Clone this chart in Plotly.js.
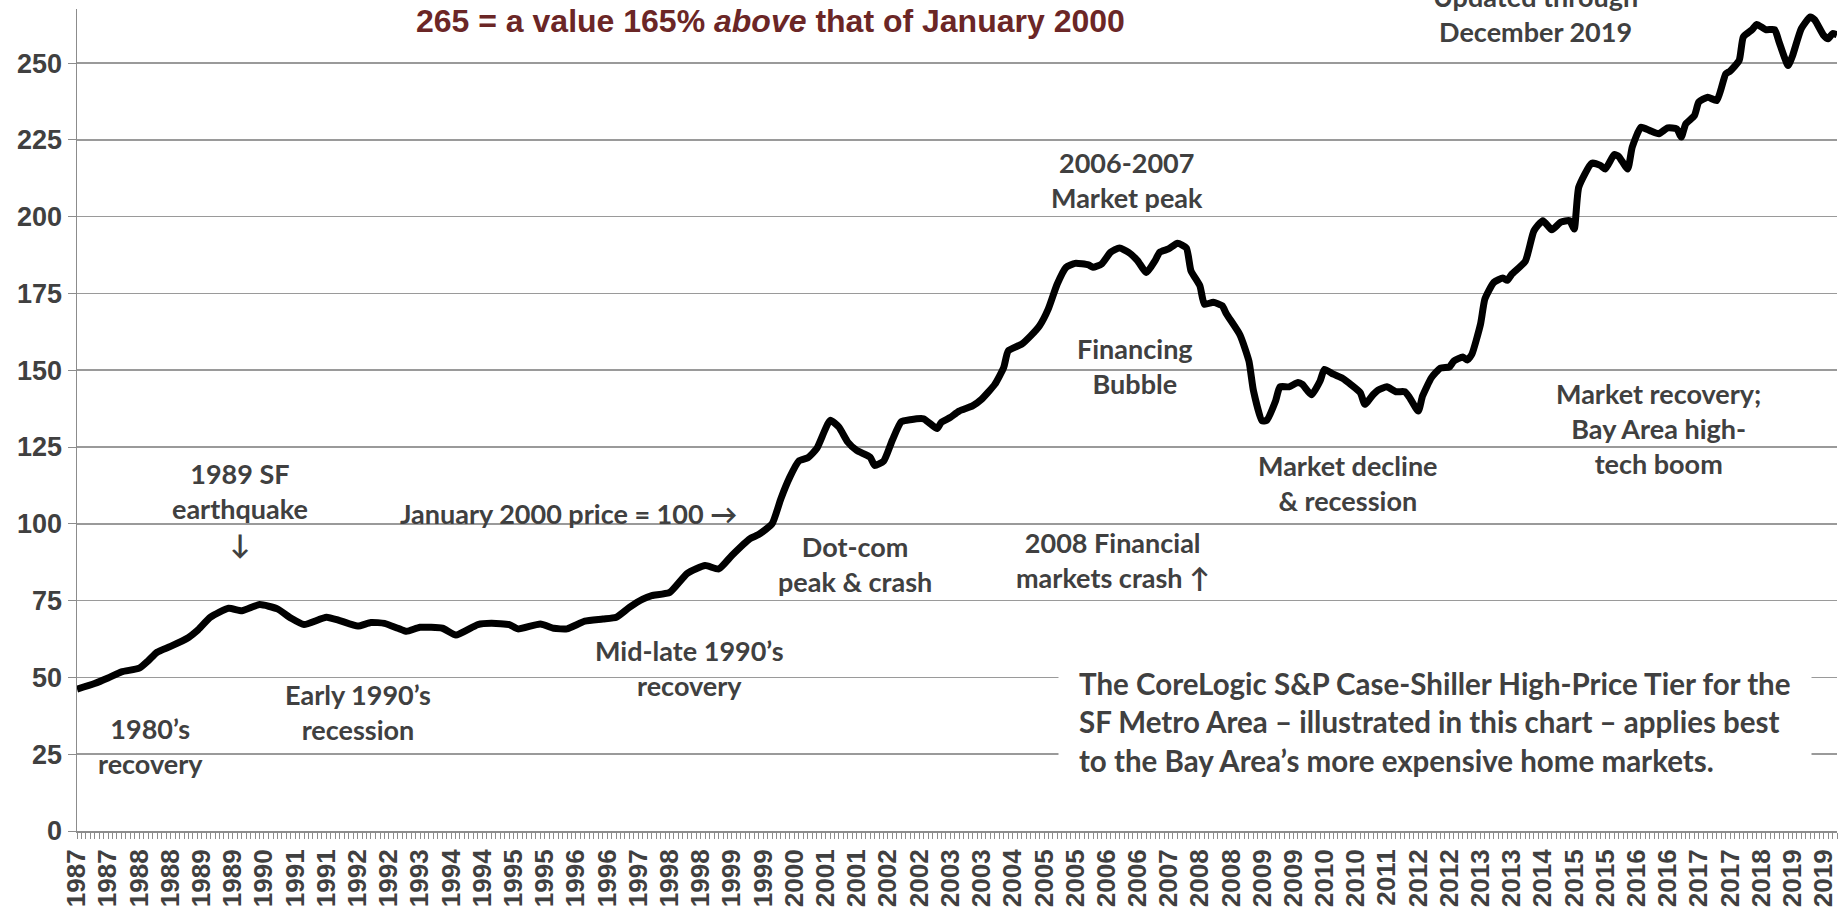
<!DOCTYPE html>
<html>
<head>
<meta charset="utf-8">
<script src="https://cdn.plot.ly/plotly-3.0.1.min.js"></script>
<style>
  html, body { margin: 0; padding: 0; background: #fff; }
  #grafica { width: 1840px; height: 913px; }
</style>
</head>
<body>
<div id="grafica"></div>
<script>
// Índice High-Price Tier SF (enero 2000 = 100)
const meses = [
    "1987-01", "1987-05", "1987-08", "1987-11", "1988-03", "1988-05", "1988-07", "1988-10",
    "1989-02", "1989-04", "1989-07", "1989-11", "1990-02", "1990-06", "1990-10", "1991-01",
    "1991-04", "1991-09", "1991-12", "1992-04", "1992-07", "1992-10", "1993-01", "1993-03",
    "1993-06", "1993-11", "1994-02", "1994-07", "1994-10", "1995-02", "1995-04", "1995-09",
    "1995-12", "1996-03", "1996-07", "1996-11", "1997-02", "1997-05", "1997-08", "1997-10",
    "1998-02", "1998-06", "1998-10", "1999-01", "1999-04", "1999-08", "1999-10", "2000-01",
    "2000-03", "2000-05", "2000-07", "2000-09", "2000-11", "2001-02", "2001-04", "2001-06",
    "2001-08", "2001-11", "2001-12", "2002-02", "2002-04", "2002-06", "2002-08", "2002-11",
    "2003-02", "2003-03", "2003-05", "2003-07", "2003-10", "2003-12", "2004-03", "2004-05",
    "2004-06", "2004-09", "2004-11", "2005-01", "2005-03", "2005-05", "2005-07", "2005-09",
    "2005-12", "2006-01", "2006-03", "2006-05", "2006-07", "2006-09", "2006-11", "2007-01",
    "2007-03", "2007-04", "2007-06", "2007-08", "2007-10", "2007-11", "2008-01", "2008-02",
    "2008-04", "2008-06", "2008-07", "2008-10", "2008-12", "2009-01", "2009-03", "2009-04",
    "2009-06", "2009-07", "2009-09", "2009-11", "2009-12", "2010-02", "2010-04", "2010-05",
    "2010-07", "2010-09", "2010-11", "2011-01", "2011-02", "2011-04", "2011-05", "2011-07",
    "2011-09", "2011-11", "2011-12", "2012-02", "2012-03", "2012-05", "2012-07", "2012-09",
    "2012-10", "2012-12", "2013-01", "2013-02", "2013-04", "2013-05", "2013-07", "2013-09",
    "2013-10", "2013-11", "2014-02", "2014-04", "2014-06", "2014-08", "2014-10", "2014-12",
    "2015-01", "2015-02", "2015-05", "2015-07", "2015-08", "2015-10", "2015-11", "2016-01",
    "2016-02", "2016-04", "2016-06", "2016-08", "2016-10", "2016-12", "2017-01", "2017-02",
    "2017-04", "2017-05", "2017-07", "2017-09", "2017-11", "2017-12", "2018-02", "2018-03",
    "2018-05", "2018-06", "2018-08", "2018-10", "2018-11", "2019-01", "2019-02", "2019-04",
    "2019-06", "2019-07", "2019-09", "2019-10", "2019-11", "2019-12"
];
const indice = [
    46.2, 48.0, 49.8, 51.8, 53.0, 55.4, 58.2, 60.1,
    63.0, 65.2, 69.6, 72.5, 71.7, 73.7, 72.3, 69.3,
    67.2, 69.6, 68.5, 66.7, 67.9, 67.6, 66.0, 65.0,
    66.3, 66.0, 63.8, 67.2, 67.6, 67.2, 65.8, 67.4,
    66.0, 65.8, 68.3, 69.0, 69.6, 72.8, 75.5, 76.6,
    77.7, 83.9, 86.4, 85.3, 89.7, 95.1, 96.5, 100.0,
    108.2, 115.2, 120.4, 121.5, 124.5, 133.7, 131.5, 126.6,
    123.9, 121.7, 119.0, 120.4, 127.2, 133.2, 133.9, 134.2,
    131.0, 133.0, 134.6, 136.7, 138.4, 140.5, 145.4, 150.9,
    156.3, 158.5, 161.2, 164.5, 169.9, 178.0, 183.5, 184.8,
    184.3, 183.5, 184.6, 188.4, 189.8, 188.4, 185.7, 181.8,
    185.7, 188.4, 189.5, 191.3, 189.8, 182.4, 177.5, 171.5,
    172.1, 171.0, 168.3, 161.5, 153.0, 143.3, 133.5, 133.7,
    140.0, 144.6, 144.6, 146.0, 145.4, 142.0, 146.5, 150.3,
    148.7, 147.4, 145.2, 142.7, 138.9, 142.2, 143.5, 144.6,
    143.0, 143.0, 141.3, 136.7, 141.6, 147.6, 150.7, 151.1,
    153.0, 154.3, 153.3, 155.2, 165.0, 173.2, 178.6, 180.0,
    179.3, 181.3, 185.5, 195.4, 198.7, 195.7, 198.2, 198.7,
    196.0, 209.6, 217.4, 216.6, 215.5, 220.2, 219.6, 215.5,
    222.6, 229.1, 228.0, 227.0, 228.9, 228.6, 225.9, 230.2,
    232.9, 237.3, 238.9, 237.8, 246.5, 247.4, 250.9, 258.5,
    260.9, 262.6, 260.9, 260.9, 256.8, 249.2, 252.5, 261.2,
    265.0, 264.1, 259.0, 257.9, 259.6, 259.2
];

// Etiquetas del eje x (una cada 7 meses desde enero 1987)
const etiquetasAnio = [
    "1987", "1987", "1988", "1988", "1989", "1989", "1990", "1991", "1991", "1992",
    "1992", "1993", "1994", "1994", "1995", "1995", "1996", "1996", "1997", "1998",
    "1998", "1999", "1999", "2000", "2001", "2001", "2002", "2002", "2003", "2003",
    "2004", "2005", "2005", "2006", "2006", "2007", "2008", "2008", "2009", "2009",
    "2010", "2010", "2011", "2012", "2012", "2013", "2013", "2014", "2015", "2015",
    "2016", "2016", "2017", "2017", "2018", "2019", "2019"
];
const marcasY = [0, 25, 50, 75, 100, 125, 150, 175, 200, 225, 250];

// Fecha de un mes contado desde enero 1987
function fechaMes(n) {
    const anio = 1987 + Math.floor(n / 12);
    const mes = (n % 12) + 1;
    return anio + "-" + String(mes).padStart(2, "0") + "-01";
}

const posEtiquetas = etiquetasAnio.map((_, i) => fechaMes(i * 7));
const todosMeses = [];
for (let n = 0; n < 396; n++) todosMeses.push(fechaMes(n));

// Márgenes del área de trazado en píxeles
const M = { l: 77, r: 3, t: 9, b: 82 };
const W = 1840, H = 913;
const anchoP = W - M.l - M.r;
const altoP = H - M.t - M.b;
function px(x, y) {
    return { x: (x - M.l) / anchoP, y: (H - M.b - y) / altoP };
}

const gris = "#404040";
const fuenteNota = { family: "Lato, 'Open Sans', sans-serif", size: 27, color: gris };

function nota(texto, x, y, extra) {
    const p = px(x, y);
    return Object.assign({
        text: "<b>" + texto + "</b>",
        x: p.x, y: p.y, xref: "paper", yref: "paper",
        xanchor: "center", yanchor: "middle",
        showarrow: false, font: fuenteNota
    }, extra || {});
}

const notas = [
    nota("265 = a value 165% <i>above</i> that of January 2000", 770, 21, {
        font: { family: "'Liberation Sans', Arial, sans-serif", size: 32, color: "#6B2626" }
    }),
    nota("Updated through<br>December 2019", 1535, 14),
    nota("2006-2007<br>Market peak", 1127, 180),
    nota("Financing<br>Bubble", 1135, 366),
    nota("Market decline<br>& recession", 1348, 483),
    nota("Market recovery;<br>Bay Area high-<br>tech boom", 1658, 428),
    nota("1989 SF<br>earthquake<br>↓", 240, 508),
    nota("January 2000 price = 100 →", 568, 513),
    nota("Dot-com<br>peak &amp; crash", 855, 564),
    nota("2008 Financial<br>markets crash ↑", 1112, 560),
    nota("Mid-late 1990’s<br>recovery", 689, 668),
    nota("Early 1990’s<br>recession", 358, 712),
    nota("1980’s<br>recovery", 150, 746),
    nota("The CoreLogic S&amp;P Case-Shiller High-Price Tier for the<br>" +
         "SF Metro Area – illustrated in this chart – applies best<br>" +
         "to the Bay Area’s more expensive home markets.", 1058, 722, {
        xanchor: "left", align: "left", bgcolor: "#ffffff", borderpad: 20,
        font: { family: "Lato, 'Open Sans', sans-serif", size: 29.5, color: gris }
    })
];

const traza = {
    x: meses,
    y: indice,
    type: "scatter",
    mode: "lines",
    line: { color: "#000000", width: 7, shape: "spline", smoothing: 0.5 },
    hoverinfo: "x+y"
};

const layout = {
    width: W,
    height: H,
    margin: M,
    paper_bgcolor: "#ffffff",
    plot_bgcolor: "#ffffff",
    showlegend: false,
    xaxis: {
        type: "date",
        range: ["1987-01-01", "2019-12-01"],
        tickmode: "array",
        tickvals: posEtiquetas,
        ticktext: etiquetasAnio,
        tickangle: -90,
        ticks: "outside",
        ticklen: 6,
        tickwidth: 1,
        tickcolor: "#8c8c8c",
        minor: {
            tickmode: "array",
            tickvals: todosMeses,
            ticks: "outside",
            ticklen: 6,
            tickwidth: 1,
            tickcolor: "#8c8c8c"
        },
        showgrid: false,
        zeroline: false,
        showline: true,
        linecolor: "#8c8c8c",
        linewidth: 2,
        tickfont: { family: "'Liberation Sans', Arial, sans-serif", size: 26, color: gris, weight: "bold" },
        fixedrange: true
    },
    yaxis: {
        range: [0, 267.6],
        tickmode: "array",
        tickvals: marcasY,
        ticks: "outside",
        ticklen: 8,
        tickcolor: "#8c8c8c",
        showgrid: true,
        gridcolor: "#9a9a9a",
        gridwidth: 1.5,
        zeroline: false,
        showline: true,
        linecolor: "#8c8c8c",
        linewidth: 1.5,
        tickfont: { family: "'Liberation Sans', Arial, sans-serif", size: 27, color: gris, weight: "bold" },
        fixedrange: true
    },
    annotations: notas
};

Plotly.newPlot("grafica", [traza], layout, { displayModeBar: false, staticPlot: true });
</script>
</body>
</html>
